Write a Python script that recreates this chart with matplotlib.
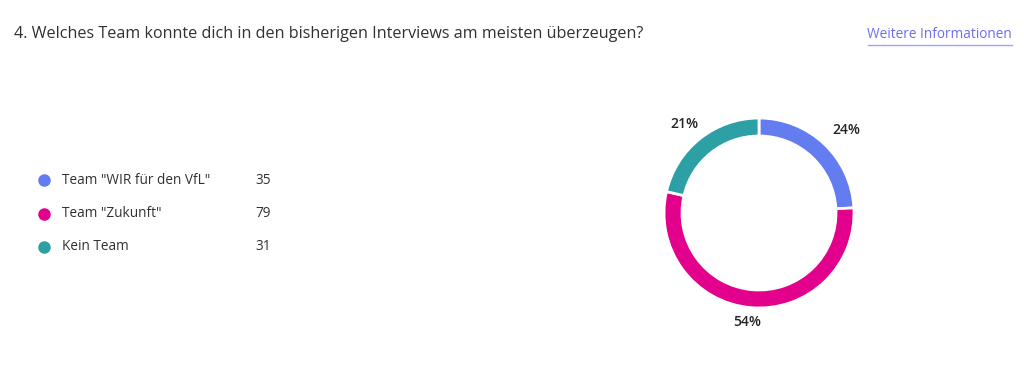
"""Donut chart: Welches Team konnte dich ueberzeugen?"""

import numpy as np
import matplotlib.pyplot as plt

plt.rcParams["font.family"] = ["Open Sans", "DejaVu Sans"]

W, H = 1024, 377

categories = ['Team "WIR für den VfL"', 'Team "Zukunft"', "Kein Team"]
counts = [35, 79, 31]
colors = ["#637cef", "#e3008c", "#2ca0a5"]

title = "4. Welches Team konnte dich in den bisherigen Interviews am meisten überzeugen?"
link = "Weitere Informationen"


def px(x, y):
    return x / W, 1 - y / H


fig = plt.figure(figsize=(W / 100, H / 100), dpi=100)
fig.patch.set_facecolor("white")

# header
fig.text(*px(14, 34), title, ha="left", va="center", fontsize=11.6, color="#323130")
fig.text(*px(1012, 34), link, ha="right", va="center", fontsize=9.8, color="#6c6cf0")
fig.add_artist(plt.Line2D([868 / W, 1012 / W], [1 - 45 / H, 1 - 45 / H],
                          color="#a3a3f5", lw=1.0))

# legend on the left
for i, (cat, n, c) in enumerate(zip(categories, counts, colors)):
    y = 180 + i * 33.5
    fig.add_artist(plt.Line2D([44 / W], [1 - y / H], marker="o", markersize=9,
                              color=c, markeredgewidth=0, linestyle="none"))
    fig.text(*px(62, y), cat, ha="left", va="center", fontsize=9.8, color="#323130")
    fig.text(*px(271, y), str(n), ha="right", va="center", fontsize=9.8, color="#323130")

# donut
cx, cy, r = 759, 213, 95
size = 260
ax = fig.add_axes([(cx - size / 2) / W, (H - cy - size / 2) / H, size / W, size / H])

wedges, _ = ax.pie(counts, colors=colors, startangle=90, counterclock=False,
                   radius=r, wedgeprops=dict(width=18, edgecolor="white", linewidth=2),
                   frame=True)
ax.set_xlim(-size / 2, size / 2)
ax.set_ylim(-size / 2, size / 2)
ax.set_aspect("equal")
ax.axis("off")

total = sum(counts)
pcts = [round(100 * n / total) for n in counts]
# label placement: mid-angle of the wedge, except the big one which sits at the bottom
label_dist = [121, 110, 116]
label_shift = [-3, 0, 1.5]
for i, w in enumerate(wedges):
    mid = (w.theta1 + w.theta2) / 2
    if i == 1:
        mid = -96
    a = np.deg2rad(mid + label_shift[i])
    ax.text(label_dist[i] * np.cos(a), label_dist[i] * np.sin(a), f"{pcts[i]}%",
            ha="center", va="center", fontsize=10, fontweight="semibold", color="#252423")

fig.savefig("out.png", dpi=100, facecolor="white")
